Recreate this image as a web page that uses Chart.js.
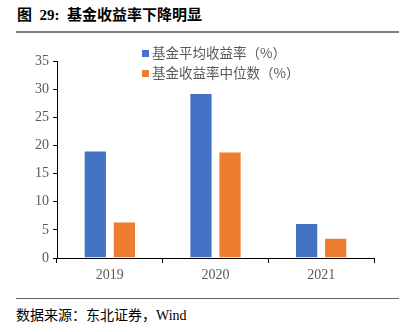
<!DOCTYPE html>
<html>
<head>
<meta charset="utf-8">
<script src="https://cdn.jsdelivr.net/npm/chart.js@4"></script>
<style>
  body { margin: 0; background: #fff; }
  #wrap { position: relative; width: 409px; height: 332px; overflow: hidden; }
  #title { position: absolute; left: 17px; top: 3px; font: bold 15px "Liberation Serif", "Noto Sans CJK SC", serif; color: #000; white-space: nowrap; }
  #line1 { position: absolute; left: 16px; top: 31px; width: 383px; height: 2px; background: #808080; }
  #line2 { position: absolute; left: 16px; top: 298px; width: 383px; height: 1px; background: #606060; }
  #source { position: absolute; left: 16px; top: 304px; font: 14px "Liberation Serif", "Noto Sans CJK SC", serif; color: #000; white-space: nowrap; }
  #box { position: absolute; left: 0; top: 40px; width: 409px; height: 250px; }
  #legend { position: absolute; left: 142px; top: 43px; font: 13.5px "Noto Sans CJK SC", sans-serif; color: #595959; }
  #legend div { height: 20px; line-height: 18px; white-space: nowrap; }
  #legend span { display: inline-block; width: 7px; height: 7px; margin-right: 3px; vertical-align: 1px; }
</style>
</head>
<body>
<div id="wrap">
  <div id="title">图&nbsp; 29:&nbsp; 基金收益率下降明显</div>
  <div id="line1"></div>
  <div id="box"><canvas id="myCanvas"></canvas></div>
  <div id="legend"></div>
  <div id="line2"></div>
  <div id="source">数据来源：东北证券，Wind</div>
</div>
<script>
var years = ["2019", "2020", "2021"];
var avgReturn = [19.1, 29.3, 6.2];
var medianReturn = [6.5, 18.9, 3.6];
var seriesNames = ["基金平均收益率（%）", "基金收益率中位数（%）"];
var seriesColors = ["#4472C4", "#ED7D31"];

var datasets = [];
var vals = [avgReturn, medianReturn];
for (var i = 0; i < vals.length; i++) {
    datasets.push({
        label: seriesNames[i],
        data: vals[i],
        backgroundColor: seriesColors[i],
        borderColor: "rgba(255,255,255,0.5)",
        borderWidth: 1,
        categoryPercentage: 0.55,
        barPercentage: 0.8
    });
}

// legend as html, on top of the plot
var leg = document.getElementById("legend");
for (var i = 0; i < datasets.length; i++) {
    var row = document.createElement("div");
    row.innerHTML = '<span style="background:' + seriesColors[i] + '"></span>' + seriesNames[i];
    leg.appendChild(row);
}

var tickFont = { family: "'Liberation Serif', serif", size: 14 };

new Chart(document.getElementById("myCanvas"), {
    type: "bar",
    data: { labels: years, datasets: datasets },
    options: {
        responsive: true,
        maintainAspectRatio: false,
        animation: false,
        layout: { padding: { top: 21, right: 35, bottom: 0, left: 0 } },
        plugins: { legend: { display: false }, tooltip: { enabled: false } },
        scales: {
            x: {
                border: { color: "#000", width: 1 },
                grid: { offset: true, drawOnChartArea: false, drawTicks: true, tickLength: 5, color: "#000" },
                ticks: { color: "#595959", font: tickFont, padding: 4 },
                afterFit: function (s) { s.height = 32; }
            },
            y: {
                min: 0,
                max: 35,
                border: { color: "#000", width: 1 },
                grid: { drawOnChartArea: false, drawTicks: true, tickLength: 4, color: "#000" },
                ticks: { stepSize: 5, color: "#595959", font: tickFont, padding: 4 },
                afterFit: function (s) { s.width = 57; }
            }
        }
    }
});
</script>
</body>
</html>
